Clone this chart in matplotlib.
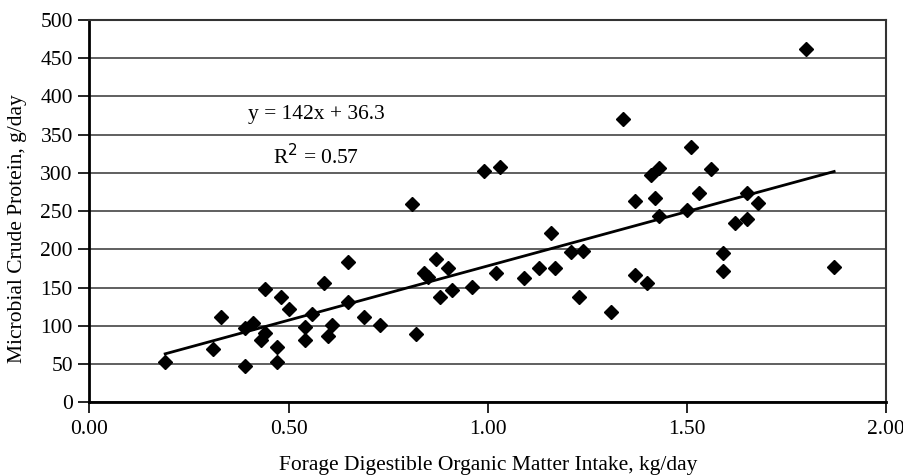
import matplotlib
matplotlib.use("Agg")
import matplotlib.pyplot as plt
import numpy as np

plt.rcParams['font.family'] = ['Liberation Serif', 'DejaVu Serif']

# forage digestible organic matter intake, kg/day
fdomi = [0.19, 0.31, 0.33, 0.39, 0.39, 0.41, 0.43, 0.44, 0.44, 0.47,
         0.47, 0.48, 0.50, 0.54, 0.54, 0.56, 0.59, 0.60, 0.61, 0.65,
         0.65, 0.69, 0.73, 0.81, 0.82, 0.84, 0.85, 0.87, 0.88, 0.90,
         0.91, 0.96, 0.99, 1.02, 1.03, 1.09, 1.13, 1.16, 1.17, 1.21,
         1.24, 1.23, 1.31, 1.34, 1.37, 1.37, 1.40, 1.41, 1.43, 1.42,
         1.43, 1.50, 1.51, 1.53, 1.56, 1.59, 1.59, 1.62, 1.65, 1.65,
         1.68, 1.80, 1.87]
# microbial crude protein, g/day
mcp = [52, 69, 111, 47, 97, 104, 81, 90, 148, 72,
       52, 137, 122, 82, 98, 115, 156, 87, 101, 184,
       131, 112, 101, 259, 89, 169, 164, 187, 138, 176,
       147, 151, 303, 169, 308, 163, 175, 222, 175, 196,
       198, 137, 118, 370, 167, 263, 156, 297, 307, 267,
       244, 251, 334, 274, 305, 171, 195, 234, 240, 274,
       260, 462, 177]

slope = 142
intercept = 36.3
r2 = 0.57

fig = plt.figure(figsize=(9.04, 4.76), dpi=100)
ax = fig.add_axes([0.099, 0.155, 0.881, 0.803])

ax.plot(fdomi, mcp, linestyle='none', marker='D', markersize=7.5,
        color='black', zorder=3)

xl = np.array([min(fdomi), max(fdomi)])
ax.plot(xl, slope * xl + intercept, color='black', linewidth=2, zorder=2)

ax.set_xlim(0, 2)
ax.set_ylim(0, 500)
ax.set_xticks([0, 0.5, 1.0, 1.5, 2.0])
ax.set_xticklabels(['0.00', '0.50', '1.00', '1.50', '2.00'])
ax.set_yticks(range(0, 501, 50))

ax.yaxis.grid(True, color='#444444', linewidth=1.2)
ax.set_axisbelow(True)

for s in ['left', 'bottom']:
    ax.spines[s].set_linewidth(2)
    ax.spines[s].set_color('black')
for s in ['top', 'right']:
    ax.spines[s].set_linewidth(1.5)
    ax.spines[s].set_color('#333333')

ax.tick_params(axis='both', direction='out', length=8, width=1.2,
               labelsize=15.5, colors='black')
ax.tick_params(axis='x', pad=5)
ax.tick_params(axis='y', pad=4)

ax.set_xlabel('Forage Digestible Organic Matter Intake, kg/day', fontsize=15.5)
ax.set_ylabel('Microbial Crude Protein, g/day', fontsize=15.5)
ax.xaxis.set_label_coords(0.5, -0.14)
ax.yaxis.set_label_coords(-0.079, 0.453)

ax.text(0.569, 377, 'y = 142x + 36.3', fontsize=15.5, ha='center', va='center')
ax.text(0.569, 321, r'R$^{2}$ = 0.57', fontsize=15.5, ha='center', va='center')

fig.savefig('out.png', dpi=100)
